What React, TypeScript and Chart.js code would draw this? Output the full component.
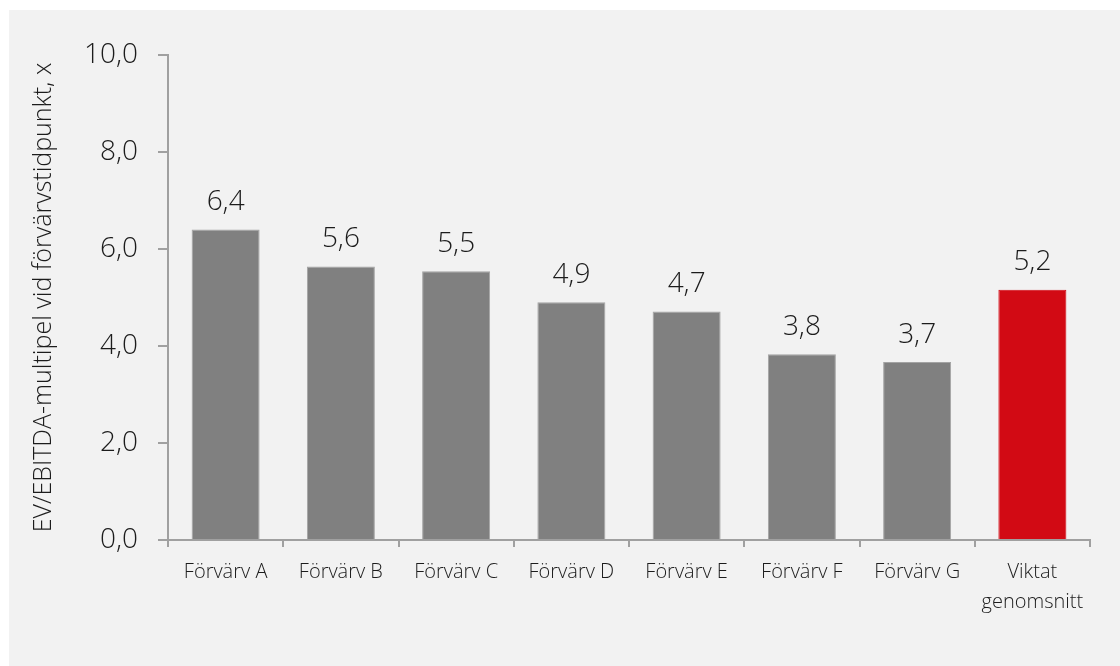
import React, { useEffect, useRef } from "react";
import { Chart, registerables } from "chart.js";

Chart.register(...registerables);

const categories: (string | string[])[] = [
  "Förvärv A",
  "Förvärv B",
  "Förvärv C",
  "Förvärv D",
  "Förvärv E",
  "Förvärv F",
  "Förvärv G",
  ["Viktat", "genomsnitt"],
];
const values: number[] = [6.4, 5.64, 5.54, 4.9, 4.71, 3.83, 3.67, 5.16];
const barColors: string[] = [
  "#808080", "#808080", "#808080", "#808080", "#808080", "#808080", "#808080", "#d20a14",
];
const borderColors: string[] = [
  "#a3a3a3", "#a3a3a3", "#a3a3a3", "#a3a3a3", "#a3a3a3", "#a3a3a3", "#a3a3a3", "#d20a14",
];
const yTitle = "EV/EBITDA-multipel vid förvärvstidpunkt, x";
const yMin = 0;
const yMax = 10;
const yStep = 2;

const FONT = "'Open Sans', 'Noto Sans', sans-serif";
const TEXT = "#1c1c1c";
const AXIS = "#a0a0a0";

const fmt = (v: number) => v.toFixed(1).replace(".", ",");

const labelPlugin = {
  id: "valueLabels",
  afterDatasetsDraw(chart: any) {
    const ctx = chart.ctx;
    const meta = chart.getDatasetMeta(0);
    ctx.save();
    ctx.font = `300 28px ${FONT}`;
    ctx.fillStyle = TEXT;
    ctx.textAlign = "center";
    ctx.textBaseline = "alphabetic";
    meta.data.forEach((bar: any, i: number) => {
      ctx.fillText(fmt(values[i]), bar.x, bar.y - 19.5);
    });
    ctx.restore();
  },
};

export default function App() {
  const ref = useRef<HTMLCanvasElement | null>(null);

  useEffect(() => {
    if (!ref.current) return;
    const chart = new Chart(ref.current, {
      type: "bar",
      data: {
        labels: categories,
        datasets: [
          {
            data: values,
            backgroundColor: barColors,
            borderColor: borderColors,
            borderWidth: 1,
            barPercentage: 0.59,
            categoryPercentage: 1,
          },
        ],
      },
      options: {
        animation: false,
        responsive: false,
        maintainAspectRatio: false,
        layout: { padding: { top: 45, right: 30, bottom: 26, left: 0 } },
        plugins: {
          legend: { display: false },
          tooltip: { enabled: false },
        },
        scales: {
          x: {
            grid: {
              display: true,
              offset: true,
              drawOnChartArea: false,
              drawTicks: true,
              tickLength: 7,
              color: AXIS,
              lineWidth: 2,
            },
            border: { display: true, color: AXIS, width: 2 },
            ticks: {
              color: TEXT,
              padding: 10,
              maxRotation: 0,
              autoSkip: false,
              font: { family: FONT, size: 20, weight: "300", lineHeight: 1.5 },
            },
            afterFit: (s: any) => {
              s.height = 100;
            },
          },
          y: {
            min: yMin,
            max: yMax,
            ticks: {
              stepSize: yStep,
              color: TEXT,
              padding: 20,
              font: { family: FONT, size: 28, weight: "300" },
              callback: (v: any) => fmt(Number(v)),
            },
            grid: {
              display: true,
              drawOnChartArea: false,
              drawTicks: true,
              tickLength: 10,
              color: AXIS,
              lineWidth: 2,
            },
            border: { display: true, color: AXIS, width: 2 },
            title: {
              display: true,
              text: yTitle,
              color: TEXT,
              font: { family: FONT, size: 25, weight: "300" },
              padding: { top: 20, bottom: 0 },
            },
            afterFit: (s: any) => {
              s.width = 159;
            },
          },
        },
      },
      plugins: [labelPlugin],
    });
    return () => chart.destroy();
  }, []);

  return (
    <div
      style={{
        position: "absolute",
        left: 9,
        top: 10,
        width: 1111,
        height: 656,
        background: "#f2f2f2",
      }}
    >
      <canvas ref={ref} width={1111} height={656} style={{ display: "block" }} />
    </div>
  );
}
